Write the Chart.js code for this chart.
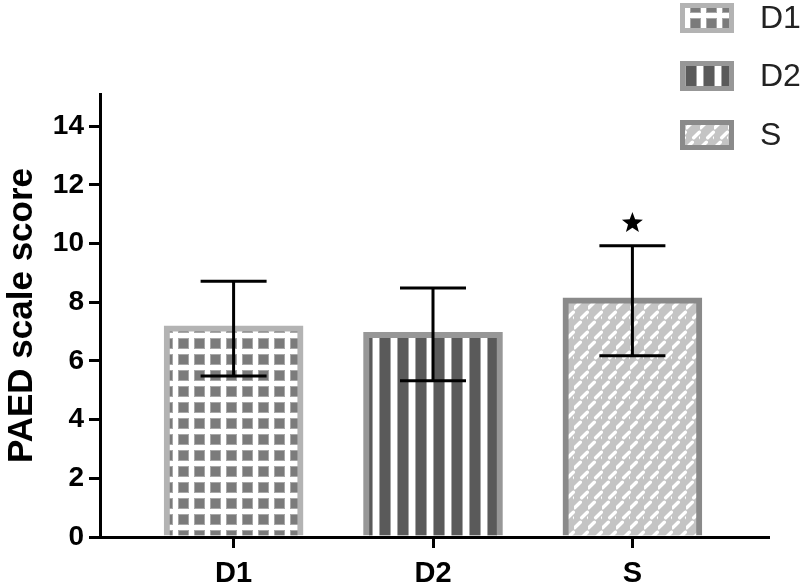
<!DOCTYPE html>
<html>
<head>
<meta charset="utf-8">
<script src="https://cdn.jsdelivr.net/npm/chart.js@4/dist/chart.umd.min.js"></script>
<style>
html,body{margin:0;padding:0;background:#fff;}
#wrap{width:800px;height:587px;position:relative;}
</style>
</head>
<body>
<div id="wrap"><canvas id="c" width="800" height="587"></canvas></div>
<script>
const categories = ['D1', 'D2', 'S'];
const means = [7.2, 6.98, 8.15];
const errLow = [5.49, 5.33, 6.18];
const errHigh = [8.72, 8.49, 9.93];
const sigMarks = [null, null, 10.7];
const yTicks = [0, 2, 4, 6, 8, 10, 12, 14];
const yTitle = 'PAED scale score';

function makeTile(w, h, draw) {
  const c = document.createElement('canvas');
  c.width = w; c.height = h;
  const g = c.getContext('2d');
  draw(g, w, h);
  return c;
}
const ctx0 = document.getElementById('c').getContext('2d');
const tileD1 = makeTile(16, 16, (g) => {
  g.fillStyle = '#fff'; g.fillRect(0, 0, 16, 16);
  g.fillStyle = '#a8a8a8'; g.fillRect(2, 2, 11, 11);
  g.fillStyle = '#7b7b7b'; g.fillRect(3, 3, 9, 9);
});
const tileD2 = makeTile(18, 4, (g) => {
  g.fillStyle = '#fff'; g.fillRect(0, 0, 18, 4);
  g.fillStyle = '#a5a5a5'; g.fillRect(1, 0, 12, 4);
  g.fillStyle = '#5a5a5a'; g.fillRect(2, 0, 10, 4);
});
const tileS = makeTile(14, 20, (g) => {
  g.fillStyle = '#c4c4c4'; g.fillRect(0, 0, 14, 20);
  g.strokeStyle = '#ffffff'; g.lineWidth = 3.4; g.lineCap = 'round';
  const dash = (cx, cy) => {
    g.beginPath(); g.moveTo(cx - 2.8, cy + 2.8); g.lineTo(cx + 2.8, cy - 2.8); g.stroke();
  };
  [[3.5, 5], [10.5, 15], [-3.5, 15], [17.5, 15], [10.5, -5], [3.5, 25], [-3.5, -5], [17.5, -5]].forEach(p => dash(p[0], p[1]));
});
const patterns = [
  ctx0.createPattern(tileD1, 'repeat'),
  ctx0.createPattern(tileD2, 'repeat'),
  ctx0.createPattern(tileS, 'repeat')
];
const borders = ['#b3b3b3', '#979797', '#8a8a8a'];

const errorBars = {
  id: 'errorBars',
  afterDatasetsDraw(chart) {
    const g = chart.ctx, xs = chart.scales.x, ys = chart.scales.y;
    g.save();
    g.strokeStyle = '#000'; g.fillStyle = '#000'; g.lineWidth = 3;
    categories.forEach((c, i) => {
      const x = xs.getPixelForValue(i + 1);
      const yl = ys.getPixelForValue(errLow[i]);
      const yh = ys.getPixelForValue(errHigh[i]);
      g.beginPath();
      g.moveTo(x, yl); g.lineTo(x, yh);
      g.moveTo(x - 33, yl); g.lineTo(x + 33, yl);
      g.moveTo(x - 33, yh); g.lineTo(x + 33, yh);
      g.stroke();
      if (sigMarks[i] != null) {
        const sy = ys.getPixelForValue(sigMarks[i]);
        const R = 11, r = 4.6;
        g.beginPath();
        for (let k = 0; k < 10; k++) {
          const a = -Math.PI / 2 + k * Math.PI / 5;
          const rr = k % 2 === 0 ? R : r;
          const px = x + rr * Math.cos(a), py = sy + rr * Math.sin(a);
          if (k === 0) g.moveTo(px, py); else g.lineTo(px, py);
        }
        g.closePath(); g.fill();
      }
    });
    g.restore();
  }
};

const legendPlugin = {
  id: 'customLegend',
  afterDraw(chart) {
    const g = chart.ctx;
    const centers = [18, 76, 135];
    g.save();
    categories.forEach((c, i) => {
      const cy = centers[i];
      const bx = 680, bw = 54, bh = 30, by = cy - bh / 2;
      g.fillStyle = borders[i];
      g.fillRect(bx, by, bw, bh);
      g.fillStyle = patterns[i];
      g.fillRect(bx + 5, by + 5, bw - 10, bh - 10);
      g.fillStyle = '#222';
      g.font = '32px "Liberation Sans", Arial, sans-serif';
      g.textBaseline = 'middle';
      g.textAlign = 'left';
      g.fillText(c, 760, cy + 1);
    });
    g.restore();
  }
};

new Chart(document.getElementById('c'), {
  type: 'bar',
  data: {
    datasets: [{
      data: categories.map((c, i) => ({ x: i + 1, y: means[i] })),
      backgroundColor: patterns,
      borderColor: borders,
      borderWidth: 6,
      borderSkipped: 'bottom',
      barThickness: 139
    }]
  },
  options: {
    responsive: false,
    animation: false,
    layout: { padding: { top: 94, right: 32, left: 0, bottom: 0 } },
    plugins: { legend: { display: false }, tooltip: { enabled: false } },
    scales: {
      x: {
        type: 'linear',
        min: 0.33, max: 3.68,
        offset: false,
        afterBuildTicks(scale) { scale.ticks = categories.map((c, i) => ({ value: i + 1 })); },
        afterFit(scale) { scale.height = 50; },
        ticks: {
          callback: (v) => categories[Math.round(v) - 1] || '',
          color: '#000',
          font: { family: '"Liberation Sans", Arial, sans-serif', size: 29, weight: 'bold' },
          padding: 9,
          maxRotation: 0
        },
        grid: { offset: false, drawOnChartArea: false, drawTicks: true, tickLength: 11, color: '#000', lineWidth: 3 },
        border: { display: true, color: '#000', width: 3 }
      },
      y: {
        min: 0, max: 15.1,
        afterBuildTicks(scale) { scale.ticks = yTicks.map(v => ({ value: v })); },
        afterFit(scale) { scale.width = 100; },
        ticks: {
          color: '#000',
          font: { family: '"Liberation Sans", Arial, sans-serif', size: 28, weight: 'bold' },
          padding: 5
        },
        grid: { drawOnChartArea: false, drawTicks: true, tickLength: 11, color: '#000', lineWidth: 3 },
        border: { display: true, color: '#000', width: 3 },
        title: {
          display: true,
          text: yTitle,
          color: '#000',
          font: { family: '"Liberation Sans", Arial, sans-serif', size: 35, weight: 'bold' },
          padding: { top: 1, bottom: 0 }
        }
      }
    }
  },
  plugins: [errorBars, legendPlugin]
});
</script>
</body>
</html>
